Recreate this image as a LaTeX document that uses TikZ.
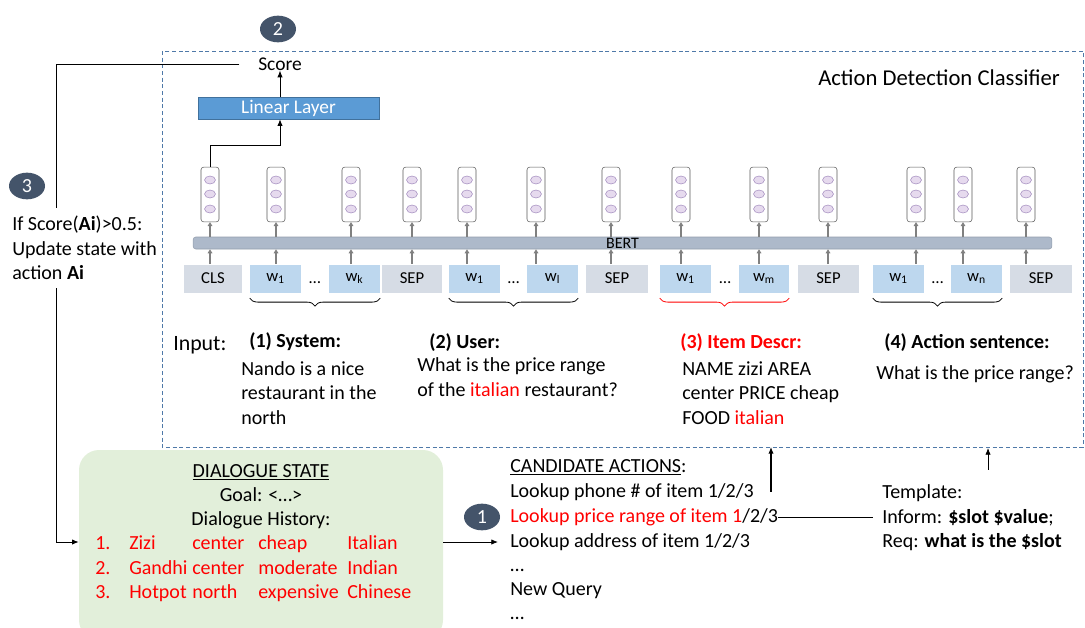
\documentclass[tikz,border=0pt]{standalone}
\usepackage{fontspec}
\setmainfont{Carlito}
\usetikzlibrary{arrows.meta,shapes.geometric,decorations.pathreplacing,calc}

\definecolor{slate}{HTML}{44546A}
\definecolor{tokgray}{HTML}{D6DCE5}
\definecolor{tokblue}{HTML}{BDD7EE}
\definecolor{linblue}{HTML}{5B9BD5}
\definecolor{linedge}{HTML}{41719C}
\definecolor{bertgray}{HTML}{ADB9CA}
\definecolor{stategreen}{HTML}{E2EFDA}
\definecolor{dotfill}{HTML}{E6DAEE}
\definecolor{dotedge}{HTML}{A58FC0}
\definecolor{boxblue}{HTML}{4F79A8}

\tikzset{
  txt/.style={inner sep=0pt, font=\fontsize{15}{18.4}\selectfont},
  head/.style={inner sep=0pt, font=\fontsize{15}{18.4}\selectfont\bfseries},
  oneline/.style={txt, anchor=west, text height=11pt, text depth=3.5pt},
  cell/.style={oneline, text=red},
  badge/.style={ellipse, fill=slate, text=white, minimum width=27pt, minimum height=20pt,
    inner sep=0pt, font=\fontsize{15}{18}\selectfont},
  tok/.style={minimum height=21pt, inner sep=0pt, font=\fontsize{12.5}{15}\selectfont},
  vec/.style={draw=black!65, fill=white, rounded corners=2pt, minimum width=13.5pt,
    minimum height=41pt, inner sep=0pt},
  unitdot/.style={fill=dotfill, draw=dotedge, line width=0.4pt},
  garrow/.style={-{Triangle[length=3pt,width=3.5pt]}, gray, line width=1.2pt},
  tokbrace/.style={decorate, decoration={brace, mirror, amplitude=6pt}, semithick},
  conn/.style={semithick},
}

\begin{document}
\begin{tikzpicture}[x=0.75pt, y=-0.75pt, >={Latex[length=5pt,width=4pt]}]
    \useasboundingbox (0,0) rectangle (1085,628);

    % Classifier frame
    \draw[boxblue, dash pattern=on 3pt off 2pt, semithick] (162,51) rectangle (1083,447);
    \node[anchor=west, inner sep=0pt, font=\fontsize{17}{20}\selectfont] (title) at (818,78) {Action Detection Classifier};

    % Step badges
    \node[badge] (b2) at (278,29) {2};
    \node[badge] (b3) at (27,186) {3};
    \node[badge] (b1) at (482,517) {1};

    % Score and linear layer
    \node[inner sep=0pt, font=\fontsize{14.6}{17}\selectfont] (score) at (280,64) {Score};
    \node[fill=linblue, draw=linedge, text=white, minimum width=135.75pt, minimum height=16.5pt,
      inner sep=0pt, font=\fontsize{14.5}{17}\selectfont] (linear) at (288.5,108) {Linear Layer};
    \draw[conn, ->] (score |- linear.north) -- (score.south);

    % BERT bar
    \node[fill=bertgray, draw=bertgray!85!black, rounded corners=2pt, minimum width=644pt,
      minimum height=9pt, inner sep=0pt] (bert) at (622.5,243) {};
    \node[inner sep=0pt, font=\fontsize{12}{14}\selectfont] (bertlbl) at (bert.center) {BERT};

    % Tokens, output vectors and small arrows
    \foreach \i/\cx/\w/\lbl/\fc/\vx in {
        1/213/58/CLS/tokgray/210,
        2/275.5/51/{w\textsubscript{1}}/tokblue/276,
        3/354.5/51/{w\textsubscript{k}}/tokblue/351,
        4/412/60/SEP/tokgray/412,
        5/474.5/51/{w\textsubscript{1}}/tokblue/467,
        6/552.5/51/{w\textsubscript{l}}/tokblue/536,
        7/617/62/SEP/tokgray/611,
        8/685.5/51/{w\textsubscript{1}}/tokblue/681,
        9/764/50/{w\textsubscript{m}}/tokblue/759,
        10/828.5/61/SEP/tokgray/828,
        11/898.5/51/{w\textsubscript{1}}/tokblue/916,
        12/976.5/51/{w\textsubscript{n}}/tokblue/963,
        13/1041/62/SEP/tokgray/1026}
    {
        \node[tok, fill=\fc, minimum width=\w*0.75pt] (t\i) at (\cx,278.5) {\lbl};
        \node[vec] (v\i) at (\vx,194.5) {};
        \foreach \dy in {180,194,209}
            \filldraw[unitdot] (\vx,\dy) ellipse (4.1pt and 3pt);
        \draw[garrow] (v\i |- t\i.north) -- (v\i |- bert.south);
        \draw[garrow] (v\i |- bert.north) -- (v\i.south);
    }

    % Dots between word pieces
    \foreach \a/\b in {2/3, 5/6, 8/9, 11/12}
        \node[inner sep=0pt, font=\fontsize{12.5}{15}\selectfont] (gap\a) at ($(t\a.east)!.5!(t\b.west)+(0,4)$) {\ldots};

    % CLS vector to linear layer
    \draw[conn, ->] (v1.north) -- ++(0,-22) -| (score |- linear.south);

    % Braces under the segments
    \draw[tokbrace] ([yshift=-4pt]t2.south west) -- ([yshift=-4pt]t3.south east);
    \draw[tokbrace] ([yshift=-4pt]t5.south west) -- ([yshift=-4pt]t6.south east);
    \draw[tokbrace, red] ([yshift=-4pt]t8.south west) -- ([yshift=-4pt]t9.south east);
    \draw[tokbrace] ([yshift=-4pt]t11.south west) -- ([yshift=-4pt]t12.south east);

    % Input segments
    \node[anchor=west, inner sep=0pt, font=\fontsize{16.4}{19}\selectfont] (inp) at (173,345) {Input:};
    \node[head, anchor=west] (syshd) at (249,342) {(1) System:};
    \node[txt, anchor=west, align=left] (systx) at (241,393) {Nando is a nice\\restaurant in the\\north};
    \node[head, anchor=west] (usrhd) at (429,343) {(2) User:};
    \node[txt, anchor=west, align=left] (usrtx) at (417,377) {What is the price range\\of the \textcolor{red}{italian} restaurant?};
    \node[head, anchor=west, text=red] (itmhd) at (680,343) {(3) Item Descr:};
    \node[txt, anchor=west, align=left] (itmtx) at (682,393) {NAME zizi AREA\\center PRICE cheap\\FOOD \textcolor{red}{italian}};
    \node[head, anchor=west] (acthd) at (884,343) {(4) Action sentence:};
    \node[txt, anchor=west] (acttx) at (876,374) {What is the price range?};

    % Update rule
    \node[txt, anchor=west, align=left, inner ysep=6pt] (cond) at (12,248) {If Score(\textbf{Ai})>0.5:\\Update state with\\action \textbf{Ai}};

    % Dialogue state
    \node[fill=stategreen, rounded corners=15pt, minimum width=273pt, minimum height=142.5pt, inner sep=0pt] (state) at (261,545) {};
    \node[oneline, anchor=center] (sthead) at (261,472) {\underline{DIALOGUE STATE}};
    \node[oneline, anchor=center] (goal) at (261,496) {Goal: <…>};
    \node[oneline, anchor=center] (hist) at (261,520) {Dialogue History:};
    \foreach \r/\y/\na/\ar/\pr/\fd in {1/544/Zizi/center/cheap/Italian, 2/569/Gandhi/center/moderate/Indian, 3/593/Hotpot/north/expensive/Chinese}
    {
        \node[cell] (r\r n) at (95,\y) {\r.};
        \node[cell] (r\r a) at (129,\y) {\na};
        \node[cell] (r\r b) at (192,\y) {\ar};
        \node[cell] (r\r c) at (258,\y) {\pr};
        \node[cell] (r\r d) at (347,\y) {\fd};
    }

    % Candidate actions
    \node[oneline] (ca0) at (510,467) {\underline{CANDIDATE ACTIONS}:};
    \node[oneline] (ca1) at (510,492) {Lookup phone \# of item 1/2/3};
    \node[oneline] (ca2) at (510,517) {\textcolor{red}{Lookup price range of item 1}/2/3};
    \node[oneline] (ca3) at (510,542) {Lookup address of item 1/2/3};
    \node[oneline] (ca4) at (510,566) {…};
    \node[oneline] (ca5) at (510,590) {New Query};
    \node[oneline] (ca6) at (510,614) {…};

    % Template
    \node[oneline] (tp0) at (882,493) {Template:};
    \node[oneline] (tp1) at (882,518) {Inform: \textbf{\$slot \$value};};
    \node[oneline] (tp2) at (882,542) {Req: \textbf{what is the \$slot}};

    % Connectors
    \coordinate (bend) at (56,64);
    \coordinate (upA) at (771,447);
    \coordinate (upB) at (988,448);
    \draw[conn] ([xshift=-14pt]score.west) -- (bend) -- (bend |- cond.north);
    \draw[conn, ->] (bend |- cond.south) |- (state.west |- ca3.west);
    \draw[conn, ->] (state.east |- ca3.west) -- ([xshift=-9pt]ca3.west);
    \draw[conn] (ca2.east) -- ([xshift=-7pt]tp1.west |- ca2.east);
    \draw[thick, <-] (upA) -- (upA |- ca1.east);
    \draw[conn, <-] (upB) -- ++(0,22);
\end{tikzpicture}
\end{document}
